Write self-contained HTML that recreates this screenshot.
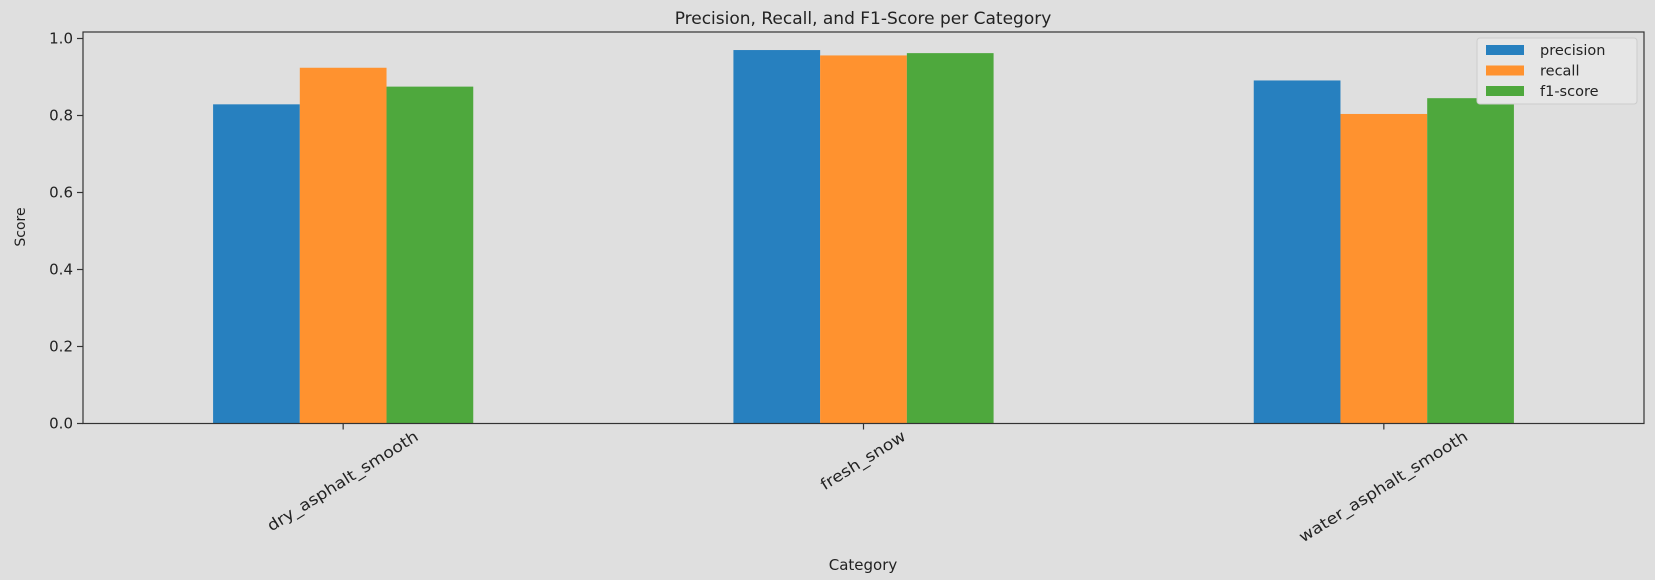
<!DOCTYPE html>
<html><head><meta charset="utf-8"><style>
body{margin:0;background:#dfdfdf;}
svg{display:block;font-family:"DejaVu Sans","Liberation Sans",sans-serif;}
</style></head><body>
<svg id="chart" width="1655" height="580" viewBox="0 0 1655 580" xmlns="http://www.w3.org/2000/svg">
<rect width="1655" height="580" fill="#dfdfdf"/>
<text x="863" y="24" font-size="17" text-anchor="middle" fill="#222">Precision, Recall, and F1-Score per Category</text>
<g id="bars"></g>
<g id="axes"></g>
<text transform="translate(25,227) rotate(-90)" font-size="14" text-anchor="middle" fill="#222">Score</text>
<text x="863" y="570" font-size="15" text-anchor="middle" fill="#222">Category</text>
<g id="legend"></g>
</svg>
<script>
const categories=["dry_asphalt_smooth","fresh_snow","water_asphalt_smooth"];
const seriesNames=["precision","recall","f1-score"];
const precision=[0.829,0.970,0.891];
const recall=[0.924,0.956,0.804];
const f1score=[0.875,0.962,0.845];
const yTicks=[0.0,0.2,0.4,0.6,0.8,1.0];
const colors=["#2780bf","#ff922f","#4ea83d"];
const series=[precision,recall,f1score];
const NS="http://www.w3.org/2000/svg";
const L=83,R=1644,T=32,B=423.5;
const xs=i=>L+(i+0.5)*(R-L)/3;
const ys=v=>B-v*385;
function mk(t,a,p){const e=document.createElementNS(NS,t);for(const k in a)e.setAttribute(k,a[k]);p.appendChild(e);return e;}
const bars=document.getElementById('bars'),axes=document.getElementById('axes'),leg=document.getElementById('legend');
const bw=(R-L)/3*0.5/3;
series.forEach((s,j)=>s.forEach((v,i)=>{
 const x=xs(i)-1.5*bw+j*bw;
 const r=mk('rect',{x:x,y:ys(v),width:bw,height:B-ys(v),fill:colors[j]},bars);
 
 
}));
const fr=mk('rect',{x:L,y:T,width:R-L,height:B-T,fill:'none',stroke:'#333','stroke-width':1.2},axes);


yTicks.forEach(v=>{
 mk('line',{x1:L-6,x2:L,y1:ys(v),y2:ys(v),stroke:'#333','stroke-width':1.2},axes);
 const t=mk('text',{x:L-10,y:ys(v)+5,'font-size':15,'text-anchor':'end',fill:'#222'},axes);
 t.textContent=v.toFixed(1);
 
 
});
categories.forEach((c,i)=>{
 const x=xs(i);
 mk('line',{x1:x,x2:x,y1:B,y2:B+6,stroke:'#333','stroke-width':1.2},axes);
 const t=mk('text',{'font-size':15.5,'text-anchor':'middle','dominant-baseline':'middle',fill:'#222'},axes);
 t.textContent=c;
 
 
 const w=t.getComputedTextLength()*1.12;
 const cy=B+12+w*0.53/2;
 t.setAttribute('transform',`translate(${x},${cy}) rotate(-32) scale(1.12,1)`);
});
mk('rect',{x:1477,y:38,width:160,height:66,rx:3,fill:'#e6e6e6',stroke:'#cccccc'},leg);
seriesNames.forEach((n,j)=>{
 const y=50+j*20.5;
 const p=mk('rect',{x:1486,y:y-5,width:38,height:10,fill:colors[j]},leg);
 
 
 const t=mk('text',{x:1540,y:y+5,'font-size':14.5,fill:'#222'},leg);
 t.textContent=n;
 
 
});
</script>
</body></html>
